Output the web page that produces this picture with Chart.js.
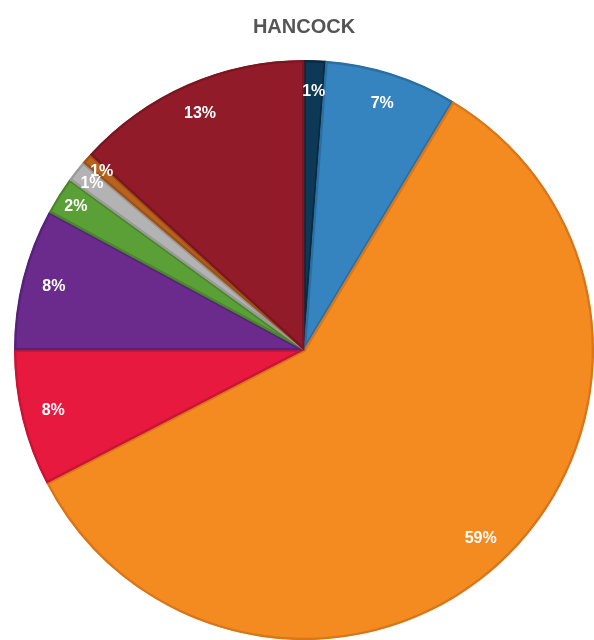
<!DOCTYPE html>
<html>
<head>
<meta charset="utf-8">
<script src="https://cdn.jsdelivr.net/npm/chart.js@4"></script>
<style>
  html, body { margin: 0; padding: 0; background: #fff; }
  #wrap { width: 594px; height: 640px; }
</style>
</head>
<body>
<div id="wrap"><canvas id="pie"></canvas></div>
<script>
// slices clockwise from 12 o'clock
const categories = ['A', 'B', 'C', 'D', 'E', 'F', 'G', 'H', 'I']
const shares = [1.2, 7.4, 58.8, 7.6, 7.9, 2.1, 1.2, 0.6, 13.2]
const fills = ['#0d3957', '#3584bf', '#f38b20', '#e8193f', '#6a2b8d', '#5b9f37', '#b3b3b3', '#b9621d', '#921b29']
const edges = ['#08293f', '#2a6fa4', '#d9761a', '#c91435', '#57227a', '#4a872b', '#9a9a9a', '#9c5217', '#7c1521']

// percentage labels drawn near the rim
const pctLabels = {
  id: 'pctLabels',
  afterDatasetsDraw (chart) {
    const ctx = chart.ctx
    const meta = chart.getDatasetMeta(0)
    ctx.save()
    ctx.fillStyle = '#ffffff'
    ctx.font = 'bold 16px "Liberation Sans", Arial, sans-serif'
    ctx.textAlign = 'center'
    ctx.textBaseline = 'middle'
    meta.data.forEach((arc, i) => {
      const mid = (arc.startAngle + arc.endAngle) / 2
      const r = arc.outerRadius * (i >= 5 && i <= 7 ? 0.93 : 0.89)
      const x = arc.x + Math.cos(mid) * r
      const y = arc.y + Math.sin(mid) * r
      ctx.fillText(Math.max(1, Math.round(shares[i])) + '%', x, y)
    })
    ctx.restore()
  }
}

new Chart(document.getElementById('pie'), {
  type: 'pie',
  data: {
    labels: categories,
    datasets: [{
      data: shares,
      backgroundColor: fills,
      borderColor: edges,
      borderWidth: 2,
      borderAlign: 'inner'
    }]
  },
  options: {
    responsive: true,
    maintainAspectRatio: false,
    animation: false,
    layout: { padding: { left: 14, right: 0, top: 0, bottom: 0 } },
    plugins: {
      legend: { display: false },
      tooltip: { enabled: false },
      title: {
        display: true,
        text: 'HANCOCK',
        color: '#555555',
        font: { size: 20, weight: 'bold', family: '"Liberation Sans", Arial, sans-serif', lineHeight: 1.2 },
        padding: { top: 15, bottom: 21 }
      }
    }
  },
  plugins: [pctLabels]
})
</script>
</body>
</html>
